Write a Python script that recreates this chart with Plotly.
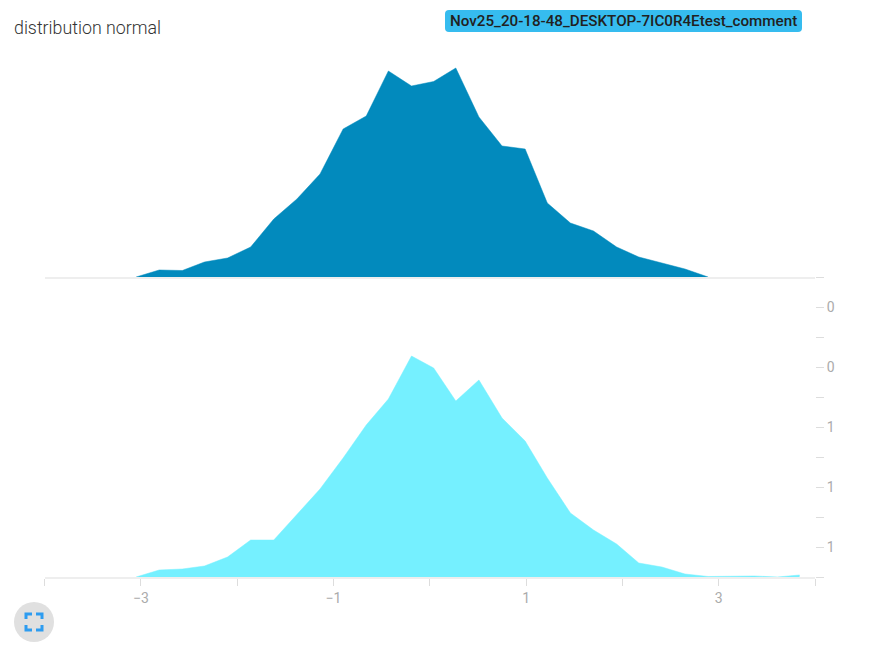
import plotly.graph_objects as go

W, H = 874, 664

title_text = "distribution normal"
run_label = "Nov25_20-18-48_DESKTOP-7IC0R4Etest_comment"

x_top = [-3.05, -2.81, -2.57, -2.34, -2.10, -1.86, -1.62, -1.38, -1.14, -0.90, -0.66, -0.43,
         -0.19, 0.04, 0.27, 0.51, 0.75, 0.99, 1.22, 1.46, 1.70, 1.94, 2.17, 2.41, 2.65, 2.89]
y_top = [0, 7, 6.5, 15, 19, 30, 58, 78, 103, 148, 161, 206,
         191, 195.5, 209, 160, 131, 128, 74, 54, 46, 30, 20, 14, 8, 0]

x_bottom = [-3.05, -2.81, -2.57, -2.34, -2.10, -1.86, -1.62, -1.38, -1.14, -0.90, -0.66, -0.43,
            -0.19, 0.04, 0.27, 0.51, 0.75, 0.99, 1.22, 1.46, 1.70, 1.94, 2.17, 2.41, 2.65, 2.89,
            3.13, 3.37, 3.61, 3.84]
y_bottom = [0, 7, 8, 11, 20, 37, 37, 62, 88, 119, 152, 178,
            221, 209, 176, 197, 159, 136, 99, 64, 47, 33, 14, 10, 3, 0.5,
            1, 1, 0, 2]

x_tickvals = [-4, -3, -2, -1, 0, 1, 2, 3, 4]
x_ticktext = ["", "−3", "", "−1", "", "1", "", "3", ""]
y_tickvals = [0, 30, 60, 90, 120, 150, 180, 210, 240, 270, 300]
y_ticktext = ["", "1", "", "1", "", "1", "", "0", "", "0", ""]

DARK = "#028ABD"
LIGHT = "#75F0FF"
AXIS = "#EEEEEE"
TICK = "#DDDDDD"
LABEL = "#ABABAB"


def px(x):
    return x / W


def py(y):
    return 1 - y / H


fig = go.Figure()
fig.add_trace(go.Scatter(x=x_top, y=y_top, xaxis="x2", yaxis="y2", mode="lines", fill="tozeroy",
                         fillcolor=DARK, line=dict(color=DARK, width=0.5), hoverinfo="skip"))
fig.add_trace(go.Scatter(x=x_bottom, y=y_bottom, xaxis="x", yaxis="y", mode="lines", fill="tozeroy",
                         fillcolor=LIGHT, line=dict(color=LIGHT, width=0.5), hoverinfo="skip"))

shapes = []
# run label badge
l, r, t, b, c = px(445), px(802), py(10), py(32), 4
rx, ry = c / W, c / H
shapes.append(dict(type="path", xref="paper", yref="paper", fillcolor="#36BCEF", line=dict(width=0),
                   path=f"M {l+rx} {t} L {r-rx} {t} Q {r} {t} {r} {t-ry} L {r} {b+ry} Q {r} {b} {r-rx} {b} "
                        f"L {l+rx} {b} Q {l} {b} {l} {b+ry} L {l} {t-ry} Q {l} {t} {l+rx} {t} Z"))
# fullscreen button
shapes.append(dict(type="circle", xref="paper", yref="paper", x0=px(14), x1=px(54), y0=py(642), y1=py(602),
                   fillcolor="#E0E0E0", line=dict(width=0)))
for cx, cy, dx, dy in [(26, 614, 1, 1), (42, 614, -1, 1), (26, 630, 1, -1), (42, 630, -1, -1)]:
    shapes.append(dict(type="path", xref="paper", yref="paper", line=dict(color="#2D9CF0", width=3),
                       path=f"M {px(cx)} {py(cy + 5 * dy)} L {px(cx)} {py(cy)} L {px(cx + 6 * dx)} {py(cy)}"))

fig.update_layout(
    width=W, height=H, autosize=False,
    margin=dict(l=0, r=0, t=0, b=0),
    paper_bgcolor="white", plot_bgcolor="white",
    showlegend=False,
    font=dict(family="Roboto", size=14, color=LABEL),
    shapes=shapes,
    xaxis=dict(domain=[px(44.6), px(815)], range=[-4, 4], anchor="y", tickmode="array",
               tickvals=x_tickvals, ticktext=x_ticktext, ticks="outside", ticklen=7, tickcolor=TICK, tickwidth=1,
               showgrid=False, zeroline=False, showline=True, linecolor=AXIS, linewidth=1.5),
    xaxis2=dict(domain=[px(44.6), px(815)], range=[-4, 4], anchor="y2", showticklabels=False, ticks="",
                showgrid=False, zeroline=False, showline=True, linecolor=AXIS, linewidth=1.5),
    yaxis=dict(domain=[py(577), py(277)], range=[0, 300], side="right", anchor="x", tickmode="array",
               tickvals=y_tickvals, ticktext=y_ticktext, ticks="outside", ticklen=8, tickcolor=TICK, tickwidth=1,
               showgrid=False, zeroline=False, showline=False),
    yaxis2=dict(domain=[py(277), py(50)], range=[0, 227], anchor="x2", visible=False),
    annotations=[
        dict(text=title_text, xref="paper", yref="paper", x=px(12), y=py(28), xanchor="left", yanchor="middle",
             showarrow=False, font=dict(family="Roboto", size=17.8, color="#333333", weight=300)),
        dict(text=run_label, xref="paper", yref="paper", x=px(448), y=py(20.5), xanchor="left", yanchor="middle",
             showarrow=False, font=dict(family="Roboto", size=15.2, color="#212121", weight=500)),
    ],
)

fig.write_html("out.html", config=dict(displayModeBar=False),
               post_script="document.body.style.margin='0';document.body.style.overflow='hidden';")
